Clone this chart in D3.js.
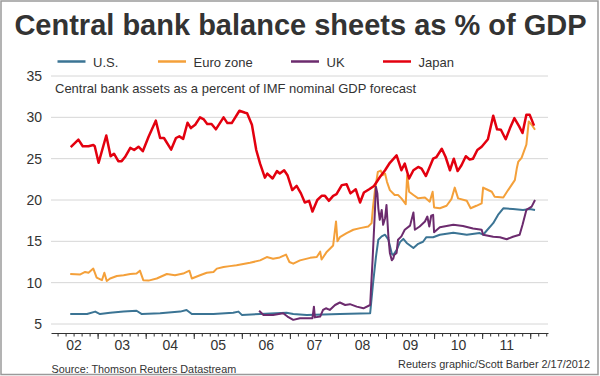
<!DOCTYPE html>
<html>
<head>
<meta charset="utf-8">
<script src="https://cdn.jsdelivr.net/npm/d3@7"></script>
<style>
body { margin: 0; background: #fff; }
svg { display: block; font-family: "Liberation Sans", Arial, sans-serif; }
</style>
</head>
<body>
<div id="chart"></div>
<script>
const us = [[2002.43,6.2],[2002.78,6.2],[2002.95,6.5],[2003.05,6.2],[2003.26,6.35],[2003.54,6.5],[2003.81,6.6],[2003.92,6.2],
  [2004.30,6.3],[2004.72,6.5],[2004.85,6.7],[2004.96,6.2],[2005.41,6.2],[2005.82,6.35],[2005.93,6.5],[2006.00,6.1],
  [2006.38,6.2],[2006.93,6.35],[2007.07,6.2],[2007.35,6.1],[2008.04,6.2],[2008.67,6.3],[2008.73,9.9],[2008.79,13.1],
  [2008.84,15.2],[2008.91,15.6],[2008.98,15.8],[2009.05,15.2],[2009.12,13.5],[2009.15,13.35],[2009.22,13.95],[2009.29,14.9],
  [2009.36,15.3],[2009.43,14.8],[2009.57,14.2],[2009.67,14.7],[2009.77,14.95],[2009.84,15.5],[2009.98,15.5],[2010.12,15.8],
  [2010.40,16.05],[2010.68,15.8],[2010.95,16.0],[2011.02,15.8],[2011.23,17.2],[2011.33,18.2],[2011.44,19.0],[2011.64,18.9],
  [2011.85,18.8],[2011.99,18.9],[2012.10,18.8]];

const euro = [[2002.43,11.05],[2002.64,11.0],[2002.74,11.3],[2002.81,11.2],[2002.91,11.7],[2002.98,10.6],[2003.09,10.3],[2003.14,11.2],
  [2003.19,10.2],[2003.26,10.5],[2003.40,10.8],[2003.54,10.9],[2003.68,11.05],[2003.81,11.1],[2003.88,11.45],[2003.95,10.3],
  [2004.06,10.25],[2004.23,10.5],[2004.44,11.05],[2004.61,10.9],[2004.78,11.1],[2004.91,11.45],[2004.96,10.5],[2005.13,10.9],
  [2005.27,11.2],[2005.41,11.3],[2005.48,11.7],[2005.62,11.9],[2005.75,12.0],[2005.89,12.1],[2006.03,12.25],[2006.17,12.4],
  [2006.38,12.7],[2006.52,13.1],[2006.65,12.9],[2006.79,13.05],[2006.92,13.4],[2006.99,12.5],[2007.07,12.3],[2007.21,12.7],
  [2007.42,13.0],[2007.56,13.1],[2007.63,13.75],[2007.66,12.8],[2007.77,13.75],[2007.90,14.5],[2007.96,17.4],[2007.99,15.0],
  [2008.04,15.5],[2008.18,16.0],[2008.32,16.4],[2008.46,16.6],[2008.63,16.8],[2008.70,17.2],[2008.73,19.2],[2008.77,21.2],
  [2008.83,23.4],[2008.89,23.55],[2008.93,23.0],[2008.98,23.2],[2009.02,22.2],[2009.08,21.2],[2009.18,20.6],[2009.25,20.6],
  [2009.32,20.2],[2009.41,19.5],[2009.44,23.0],[2009.48,21.0],[2009.57,20.6],[2009.67,20.2],[2009.81,20.3],[2009.91,19.8],
  [2009.97,21.0],[2010.00,19.1],[2010.12,19.0],[2010.26,19.3],[2010.36,20.1],[2010.43,21.5],[2010.50,20.2],[2010.68,19.9],
  [2010.76,19.0],[2010.88,19.3],[2010.99,19.6],[2011.02,21.5],[2011.09,21.3],[2011.20,21.0],[2011.26,20.4],[2011.44,20.3],
  [2011.54,21.2],[2011.61,21.8],[2011.68,22.4],[2011.72,23.8],[2011.75,24.6],[2011.82,25.1],[2011.92,26.7],[2011.97,29.5],
  [2012.03,29.1],[2012.10,28.5]];

const uk = [[2006.36,6.6],[2006.45,6.1],[2006.65,6.1],[2006.86,6.3],[2006.95,5.9],[2007.07,5.5],[2007.21,5.7],[2007.47,5.7],
  [2007.50,7.1],[2007.52,5.8],[2007.63,5.9],[2007.69,6.7],[2007.75,6.9],[2007.83,6.7],[2007.94,7.3],[2008.04,7.6],
  [2008.15,7.3],[2008.25,7.4],[2008.39,7.1],[2008.53,6.9],[2008.67,7.3],[2008.72,12.7],[2008.77,18.8],[2008.79,21.6],
  [2008.82,20.8],[2008.84,19.0],[2008.87,17.6],[2008.91,18.8],[2008.94,17.0],[2008.98,17.8],[2009.01,19.4],[2009.05,15.5],
  [2009.08,13.6],[2009.12,12.7],[2009.15,12.9],[2009.17,13.35],[2009.22,13.6],[2009.25,15.2],[2009.32,15.6],[2009.39,16.4],
  [2009.50,16.9],[2009.57,18.5],[2009.60,16.4],[2009.70,16.8],[2009.81,17.4],[2009.86,18.0],[2009.90,16.8],[2009.94,18.1],
  [2009.98,18.2],[2010.00,16.1],[2010.12,16.7],[2010.40,17.0],[2010.60,16.85],[2010.81,16.55],[2010.99,16.4],[2011.02,15.8],
  [2011.23,15.55],[2011.37,15.5],[2011.51,15.25],[2011.64,15.55],[2011.78,15.8],[2011.84,17.0],[2011.92,18.8],[2012.03,19.2],
  [2012.10,20.0]];

const japan = [[2002.44,26.4],[2002.60,27.3],[2002.69,26.5],[2002.81,26.5],[2002.91,26.65],[2002.94,26.5],[2003.02,24.5],[2003.18,27.8],
  [2003.27,25.3],[2003.34,25.6],[2003.43,24.7],[2003.50,24.7],[2003.57,25.2],[2003.68,26.3],[2003.76,26.05],[2003.85,26.45],
  [2003.94,25.9],[2004.06,27.66],[2004.21,29.6],[2004.30,27.5],[2004.38,27.5],[2004.53,26.1],[2004.63,27.5],[2004.70,27.7],
  [2004.78,27.4],[2004.87,29.35],[2004.94,28.7],[2005.03,29.1],[2005.13,30.0],[2005.21,29.75],[2005.28,29.2],[2005.37,29.2],
  [2005.46,28.55],[2005.62,30.0],[2005.70,29.3],[2005.79,29.3],[2005.95,30.8],[2006.07,30.55],[2006.11,30.5],[2006.21,29.1],
  [2006.30,26.05],[2006.38,24.4],[2006.48,22.7],[2006.53,23.2],[2006.64,22.6],[2006.73,23.5],[2006.79,23.2],[2006.88,23.6],
  [2006.95,23.0],[2007.05,21.2],[2007.14,21.7],[2007.23,20.8],[2007.31,19.7],[2007.40,19.9],[2007.47,18.6],[2007.57,20.0],
  [2007.66,20.5],[2007.73,20.5],[2007.81,19.9],[2007.90,20.5],[2007.97,20.7],[2008.08,21.8],[2008.18,21.9],[2008.26,20.8],
  [2008.37,21.3],[2008.46,19.7],[2008.54,20.9],[2008.65,21.3],[2008.75,21.7],[2008.87,22.75],[2008.98,23.6],[2009.08,24.5],
  [2009.22,25.4],[2009.32,23.6],[2009.39,24.4],[2009.48,22.6],[2009.57,23.6],[2009.67,24.0],[2009.74,23.8],[2009.83,22.9],
  [2009.98,25.0],[2010.05,25.2],[2010.16,26.2],[2010.24,25.2],[2010.33,23.6],[2010.41,25.0],[2010.49,23.5],[2010.57,24.2],
  [2010.66,25.3],[2010.74,24.9],[2010.81,25.0],[2010.90,26.05],[2010.99,26.45],[2011.12,27.35],[2011.23,30.2],[2011.31,28.55],
  [2011.39,28.5],[2011.49,27.35],[2011.58,28.7],[2011.67,29.9],[2011.77,28.9],[2011.84,28.1],[2011.92,30.3],[2011.99,30.3],
  [2012.08,29.0]];

const seriesNames = ['U.S.', 'Euro zone', 'UK', 'Japan'];
const seriesData = [us, euro, uk, japan];
const colors = ['#3b7494', '#f4a03a', '#6c2b6e', '#e3000f'];
const yTicks = [5, 10, 15, 20, 25, 30, 35];
const yearLabels = ['02', '03', '04', '05', '06', '07', '08', '09', '10', '11'];

const width = 600, height = 376;

const x = d3.scaleLinear().domain([2002.03, 2012.37]).range([51, 548]);
const y = d3.scaleLinear().domain([5, 35]).range([324, 76]);

const svg = d3.select("#chart").append("svg")
    .attr("width", width)
    .attr("height", height);

svg.append("rect")
    .attr("x", 1).attr("y", 1)
    .attr("width", 597).attr("height", 373.5)
    .attr("fill", "#fff")
    .attr("stroke", "#9a9a9a")
    .attr("stroke-width", 1.5);

// title
svg.append("text")
    .attr("x", 300.5).attr("y", 34.5)
    .attr("text-anchor", "middle")
    .attr("font-size", 29).attr("font-weight", "bold")
    .attr("fill", "#333")
    .text("Central bank balance sheets as % of GDP");

// legend
const legendX = [57.5, 158, 291, 383];
const legend = svg.append("g").selectAll("g")
    .data(seriesNames)
    .join("g")
    .attr("transform", (d, i) => `translate(${legendX[i]},61.5)`);
legend.append("line")
    .attr("x1", 0).attr("x2", 28)
    .attr("stroke", (d, i) => colors[i])
    .attr("stroke-width", 2.5);
legend.append("text")
    .attr("x", 35.5).attr("y", 5.3)
    .attr("font-size", 13).attr("fill", "#333")
    .text(d => d);

// gridlines
svg.append("g").selectAll("line")
    .data(yTicks)
    .join("line")
    .attr("x1", x.range()[0]).attr("x2", x.range()[1])
    .attr("y1", d => y(d)).attr("y2", d => y(d))
    .attr("stroke", "#d6d6d6")
    .attr("stroke-width", 1);

svg.append("text")
    .attr("x", 55).attr("y", 92.5)
    .attr("font-size", 13).attr("fill", "#333")
    .text("Central bank assets as a percent of IMF nominal GDP forecast");

// y axis labels
svg.append("g")
    .attr("transform", "translate(42,0)")
    .call(d3.axisLeft(y).tickValues(yTicks).tickSize(0).tickPadding(0))
    .call(g => g.select(".domain").remove())
    .call(g => g.selectAll("text")
        .attr("font-size", 14)
        .attr("font-family", "'Liberation Sans', Arial, sans-serif")
        .attr("fill", "#333"));

// x axis: minor ticks every 2 months, taller ticks at year starts, labels mid-year
const axisY = 333;
const minorTicks = d3.range(2002 + 2 / 12, 2012.37, 2 / 12);
const yearTicks = d3.range(2003, 2013);

svg.append("g")
    .attr("transform", `translate(0,${axisY})`)
    .call(d3.axisBottom(x).tickValues(minorTicks).tickSize(3.5).tickSizeOuter(0).tickFormat(""))
    .call(g => g.selectAll("path,line").attr("stroke", "#333"));

svg.append("g")
    .attr("transform", `translate(0,${axisY})`)
    .call(d3.axisBottom(x).tickValues(yearTicks).tickSize(6).tickSizeOuter(0).tickFormat(""))
    .call(g => g.select(".domain").remove())
    .call(g => g.selectAll("line").attr("stroke", "#333"));

svg.append("g")
    .attr("transform", `translate(0,${axisY})`)
    .call(d3.axisBottom(x).tickValues(yearLabels.map((d, i) => 2002.5 + i))
        .tickSize(0).tickPadding(7).tickFormat((d, i) => yearLabels[i]))
    .call(g => g.select(".domain").remove())
    .call(g => g.selectAll("text")
        .attr("font-size", 14)
        .attr("font-family", "'Liberation Sans', Arial, sans-serif")
        .attr("fill", "#333"));

// lines
const line = d3.line()
    .x(d => x(d[0]))
    .y(d => y(d[1]));

svg.append("g")
    .selectAll("path")
    .data(seriesData)
    .join("path")
    .attr("fill", "none")
    .attr("stroke", (d, i) => colors[i])
    .attr("stroke-width", (d, i) => i == 3 ? 2.5 : 2)
    .attr("stroke-linejoin", "round")
    .attr("d", line);

// footer
svg.append("text")
    .attr("x", 51.5).attr("y", 373)
    .attr("font-size", 10.8).attr("fill", "#333")
    .text("Source: Thomson Reuters Datastream");

svg.append("text")
    .attr("x", 590).attr("y", 368)
    .attr("text-anchor", "end")
    .attr("font-size", 10.9).attr("fill", "#333")
    .text("Reuters graphic/Scott Barber 2/17/2012");
</script>
</body>
</html>
